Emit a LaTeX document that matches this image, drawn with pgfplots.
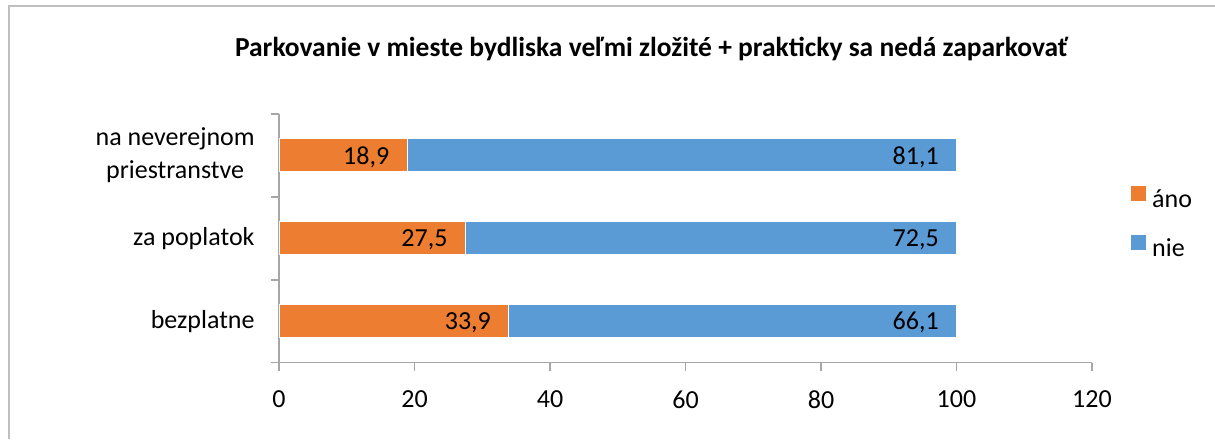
\documentclass[border=0pt]{standalone}
\usepackage{fontspec}
\setmainfont{Carlito}
\usepackage{pgfplots}
\pgfplotsset{compat=1.18}
\definecolor{cOrange}{HTML}{ED7D31}
\definecolor{cBlue}{HTML}{5B9BD5}
\definecolor{axgray}{HTML}{A6A6A6}
\definecolor{frgray}{HTML}{BFBFBF}
\pgfplotsset{
  common/.style={at={(139.5pt,38.15pt)}, anchor=south west,
    scale only axis, width=406.5pt, height=124.35pt,
    xmin=0, xmax=120, ymin=-0.5, ymax=2.5}
}
\begin{document}
\begin{tikzpicture}
\path[use as bounding box] (0,0) rectangle (607.5pt,219.5pt);
\draw[frgray, line width=0.7pt] (4.5pt,0) -- (4.5pt,216.5pt) -- (607.5pt,216.5pt);
\node[anchor=base, inner sep=0pt, font=\bfseries\fontsize{13.75}{16}\selectfont]
  at (325.75pt,191.15pt) {Parkovanie v mieste bydliska veľmi zložité + prakticky sa nedá zaparkovať};
\begin{axis}[
  common,
  xbar stacked, bar width=16.5pt,
  xtick={0,20,...,120},
  ytick={-0.5,0.5,1.5,2.5}, yticklabels={},
  extra y ticks={0,1,2},
  extra y tick labels={bezplatne, za poplatok, {na neverejnom\\priestranstve}},
  extra y tick style={major tick length=0pt,
     yticklabel style={align=center, anchor=east, inner sep=0pt, xshift=-12pt,
       font=\fontsize{13}{16.5}\selectfont}},
  axis lines*=left,
  axis line style={draw=axgray, line width=0.7pt, -},
  tick style={draw=axgray, line width=0.7pt},
  major tick length=4pt,
  tick align=outside,
  /pgf/number format/assume math mode=true,
  xticklabel style={font=\fontsize{13}{15.6}\selectfont, inner sep=0pt, anchor=north, yshift=-10pt},
  legend style={draw=none, fill=none, at={(1.0476,0.7105)}, anchor=north west,
     inner sep=0pt, row sep=12.5pt, column sep=3.35pt,
     font=\fontsize{13}{15.6}\selectfont, cells={anchor=west}, nodes={inner sep=0pt}},
  legend image code/.code={\fill[#1, draw=none] (0pt,-0.5pt) rectangle (7.2pt,6.7pt);},
]
\addplot[fill=cOrange, draw=white, line width=0.5pt] table[x=v, y=c] {
v c
33.9 0
27.5 1
18.9 2
};
\addplot[fill=cBlue, draw=white, line width=0.5pt] table[x=v, y=c] {
v c
66.1 0
72.5 1
81.1 2
};
\legend{áno, nie}
\end{axis}
\begin{axis}[
  common, hide axis,
  nodes near coords,
  point meta=explicit symbolic,
  every node near coord/.style={anchor=base east, inner sep=0pt, xshift=-8.7pt,
     yshift=-4.3pt, font=\fontsize{13}{15.6}\selectfont, text=black},
]
\addplot[draw=none, mark=none] table[x=e, y=c, meta=lab] {
e c lab
33.9 0 33,9
27.5 1 27,5
18.9 2 18,9
};
\addplot[draw=none, mark=none] table[x=e, y=c, meta=lab] {
e c lab
100 0 66,1
100 1 72,5
100 2 81,1
};
\end{axis}
\end{tikzpicture}
\end{document}
